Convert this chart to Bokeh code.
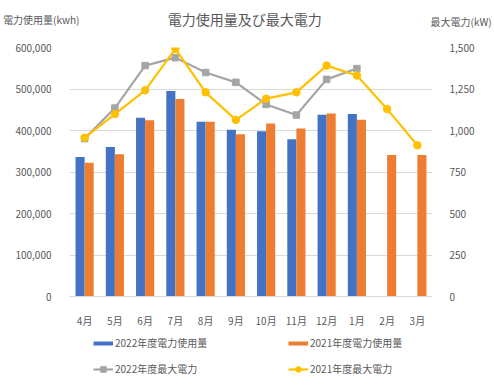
from bokeh.plotting import figure
from bokeh.models import (FactorRange, Range1d, LinearAxis, NumeralTickFormatter,
                          Legend, LegendItem, ColumnDataSource, FixedTicker)
from bokeh.core.properties import value
from bokeh.layouts import column
from bokeh.transform import dodge
from bokeh.embed import file_html
from bokeh.resources import INLINE

months = ["4月", "5月", "6月", "7月", "8月", "9月", "10月", "11月", "12月", "1月", "2月", "3月"]
usage_2022 = [336000, 360000, 431000, 495000, 421000, 402000, 398000, 379000, 438000, 440000]
usage_2021 = [322000, 343000, 425000, 476000, 421000, 391000, 417000, 405000, 441000, 426000, 341000, 341000]
peak_2022 = [951, 1135, 1391, 1439, 1349, 1290, 1157, 1093, 1308, 1373]
peak_2021 = [957, 1099, 1242, 1492, 1230, 1064, 1192, 1230, 1391, 1331, 1129, 911]
usage_ticks = [0, 100000, 200000, 300000, 400000, 500000, 600000]
peak_ticks = [0, 250, 500, 750, 1000, 1250, 1500]

title_text = "電力使用量及び最大電力"
left_label = "電力使用量(kwh)"
right_label = "最大電力(kW)"
names = ["2022年度電力使用量", "2021年度電力使用量", "2022年度最大電力", "2021年度最大電力"]

FONT = "Noto Sans CJK JP"
TXT = "#595959"
BLUE, ORANGE, GRAY, YELLOW = "#4472C4", "#ED7D31", "#A5A5A5", "#FFC000"
W = 494
NAN = float("nan")


def strip_axis(ax):
    ax.axis_line_color = None
    ax.major_tick_line_color = None
    ax.minor_tick_line_color = None
    ax.major_label_text_font = FONT
    ax.major_label_text_font_size = "10px"
    ax.major_label_text_color = TXT


def blank(height):
    f = figure(width=W, height=height, x_range=Range1d(66, 440), y_range=Range1d(height, 0),
               x_axis_type=None, y_axis_type=None, output_backend="svg", toolbar_location=None,
               min_border_left=66, min_border_right=54, min_border_top=0, min_border_bottom=0)
    f.outline_line_color = None
    f.grid.visible = False
    return f


# ---------- header: title and axis captions ----------
head = blank(40)
head.text(x=[246.5], y=[18.5], text=[title_text], text_font=value(FONT), text_font_size="14px",
          text_color=TXT, text_align="center", text_baseline="middle")
hl = LinearAxis(ticker=FixedTicker(ticks=[19]), major_label_overrides={19: left_label})
strip_axis(hl)
hl.major_label_standoff = -16
head.add_layout(hl, "left")
hr = LinearAxis(ticker=FixedTicker(ticks=[21]), major_label_overrides={21: right_label})
strip_axis(hr)
hr.major_label_standoff = -8
head.add_layout(hr, "right")

# ---------- main chart ----------
src22 = ColumnDataSource(dict(x=months[:len(usage_2022)], y=usage_2022, p=peak_2022))
src21 = ColumnDataSource(dict(x=months, y=usage_2021, p=peak_2021))

p = figure(width=W, height=290, x_range=FactorRange(factors=months),
           y_range=Range1d(0, 600000), output_backend="svg", toolbar_location=None,
           min_border_left=66, min_border_right=54, min_border_top=7, min_border_bottom=31)
p.extra_y_ranges = {"peak": Range1d(0, 1500)}
p.outline_line_color = None

p.vbar(x=dodge("x", -0.15, range=p.x_range), top="y", width=0.3, source=src22,
       fill_color=BLUE, line_color=None)
p.vbar(x=dodge("x", 0.15, range=p.x_range), top="y", width=0.3, source=src21,
       fill_color=ORANGE, line_color=None)

p.line("x", "p", source=src22, y_range_name="peak", line_color=GRAY, line_width=2.2)
p.scatter("x", "p", source=src22, y_range_name="peak", marker="square", size=6.5,
          fill_color=GRAY, line_color=GRAY)
p.line("x", "p", source=src21, y_range_name="peak", line_color=YELLOW, line_width=2.2)
p.scatter("x", "p", source=src21, y_range_name="peak", marker="circle", size=7.5,
          fill_color=YELLOW, line_color=YELLOW)

p.xgrid.grid_line_color = None
p.ygrid.grid_line_color = "#d9d9d9"
p.ygrid.grid_line_width = 1

p.yaxis.ticker = FixedTicker(ticks=usage_ticks)
p.yaxis.formatter = NumeralTickFormatter(format="0,0")
strip_axis(p.yaxis[0])
p.yaxis.major_label_standoff = 12

ry = LinearAxis(y_range_name="peak", formatter=NumeralTickFormatter(format="0,0"),
                ticker=FixedTicker(ticks=peak_ticks))
strip_axis(ry)
ry.major_label_standoff = 11
p.add_layout(ry, "right")

strip_axis(p.xaxis[0])
p.xaxis.axis_line_color = "#d9d9d9"
p.xaxis.major_label_standoff = 10

# ---------- legend footer ----------
foot = blank(59)
k_b22 = foot.line(x=[NAN], y=[NAN], line_color=BLUE, line_width=4)
k_b21 = foot.line(x=[NAN], y=[NAN], line_color=ORANGE, line_width=4)
k_l22 = foot.line(x=[NAN], y=[NAN], line_color=GRAY, line_width=2.2)
k_m22 = foot.scatter(x=[NAN], y=[NAN], marker="square", size=6.5, fill_color=GRAY, line_color=GRAY)
k_l21 = foot.line(x=[NAN], y=[NAN], line_color=YELLOW, line_width=2.2)
k_m21 = foot.scatter(x=[NAN], y=[NAN], marker="circle", size=7.5, fill_color=YELLOW, line_color=YELLOW)


def make_legend(items, x):
    lg = Legend(items=items, location=(x, 13), orientation="vertical")
    lg.label_text_font = FONT
    lg.label_text_font_size = "10px"
    lg.label_text_color = TXT
    lg.glyph_width = 20
    lg.glyph_height = 14
    lg.label_height = 14
    lg.label_standoff = 2
    lg.spacing = 11
    lg.padding = 0
    lg.margin = 0
    lg.border_line_color = None
    lg.background_fill_alpha = 0
    return lg


foot.add_layout(make_legend([LegendItem(label=names[0], renderers=[k_b22]),
                             LegendItem(label=names[2], renderers=[k_l22, k_m22])], 24), "center")
foot.add_layout(make_legend([LegendItem(label=names[1], renderers=[k_b21]),
                             LegendItem(label=names[3], renderers=[k_l21, k_m21])], 219), "center")

layout = column(head, p, foot, spacing=0)
open("out.html", "w").write(file_html(layout, INLINE))
